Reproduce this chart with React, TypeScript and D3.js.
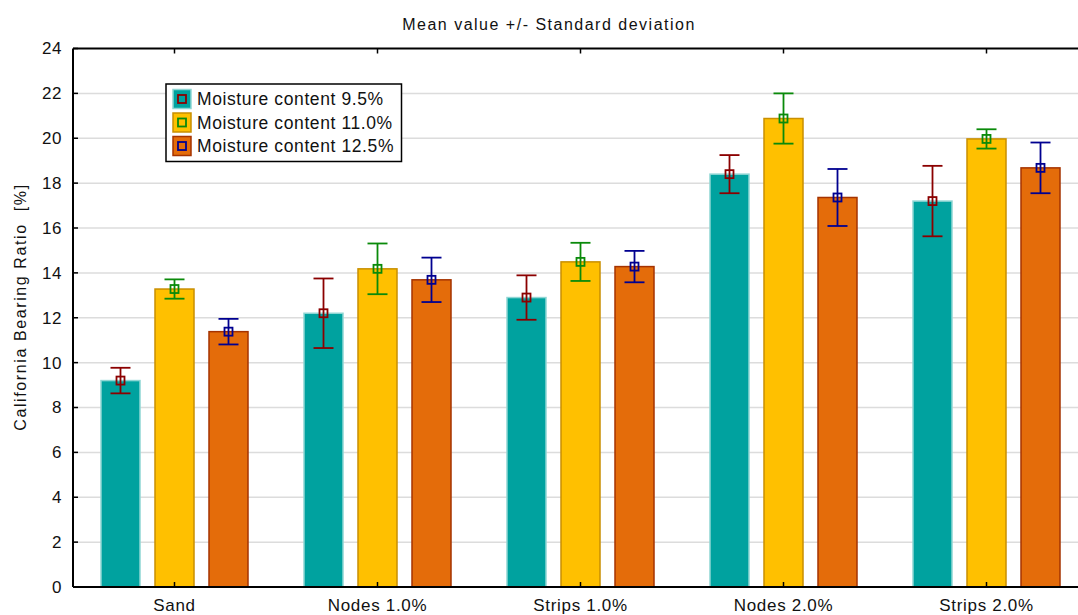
import { useEffect, useRef } from 'react';
import * as d3 from 'd3';

const categories = ['Sand', 'Nodes 1.0%', 'Strips 1.0%', 'Nodes 2.0%', 'Strips 2.0%'];
const seriesNames = ['Moisture content 9.5%', 'Moisture content 11.0%', 'Moisture content 12.5%'];

const mean95 = [9.2, 12.2, 12.9, 18.4, 17.2];
const sd95 = [0.57, 1.55, 0.99, 0.85, 1.57];
const mean110 = [13.28, 14.18, 14.49, 20.88, 19.97];
const sd110 = [0.43, 1.13, 0.85, 1.12, 0.43];
const mean125 = [11.38, 13.69, 14.28, 17.36, 18.68];
const sd125 = [0.57, 0.99, 0.7, 1.27, 1.13];

const yTicks = [0, 2, 4, 6, 8, 10, 12, 14, 16, 18, 20, 22, 24];

const FILLS = ['#00A29F', '#FFC000', '#E46C0A'];
const STROKES = ['#8FD6D4', '#C98F00', '#A53300'];
const ERR = ['#8B0000', '#0A8A0A', '#000090'];

const FONT = '"Liberation Sans", Arial, sans-serif';

export default function App() {
  const svgRef = useRef<SVGSVGElement>(null);
  const width = 1078;
  const height = 615;

  useEffect(() => {
    if (!svgRef.current) return;
    const svg = d3.select(svgRef.current);
    svg.selectAll('*').remove();

    const left = 73;
    const top = 48.5;
    const bottom = 587;
    const right = 73 + 5 * 203;

    const x0 = d3.scaleBand().domain(categories).range([left, right]).padding(0);
    const x1 = d3
      .scaleBand()
      .domain(['0', '1', '2'])
      .range([-73.5, 73.5])
      .paddingInner(15 / 54)
      .paddingOuter(0);
    const y = d3.scaleLinear().domain([0, 24]).range([bottom, top]);

    const means = [mean95, mean110, mean125];
    const sds = [sd95, sd110, sd125];
    const data = categories.flatMap((c, ci) =>
      [0, 1, 2].map((s) => ({
        cat: c,
        s,
        mean: means[s][ci],
        sd: sds[s][ci],
        cx: (x0(c) || 0) + x0.bandwidth() / 2,
      }))
    );

    // gridlines
    svg
      .append('g')
      .selectAll('line')
      .data(yTicks.filter((t) => t > 0 && t < 24))
      .join('line')
      .attr('x1', left)
      .attr('x2', width)
      .attr('y1', (d) => y(d))
      .attr('y2', (d) => y(d))
      .attr('stroke', '#dcdcdc')
      .attr('stroke-width', 1.5);

    // bars
    svg
      .append('g')
      .selectAll('rect')
      .data(data)
      .join('rect')
      .attr('x', (d) => d.cx + (x1(String(d.s)) || 0))
      .attr('y', (d) => y(d.mean))
      .attr('width', x1.bandwidth())
      .attr('height', (d) => bottom - y(d.mean))
      .attr('fill', (d) => FILLS[d.s])
      .attr('stroke', (d) => STROKES[d.s])
      .attr('stroke-width', 1.5);

    // error bars
    const eb = svg
      .append('g')
      .selectAll('g')
      .data(data)
      .join('g')
      .attr('stroke', (d) => ERR[d.s])
      .attr('stroke-width', 1.8)
      .attr('fill', 'none');
    const ex = (d: any) => d.cx + (x1(String(d.s)) || 0) + x1.bandwidth() / 2;
    eb.append('line')
      .attr('x1', ex)
      .attr('x2', ex)
      .attr('y1', (d: any) => y(d.mean + d.sd))
      .attr('y2', (d: any) => y(d.mean - d.sd));
    [1, -1].forEach((k) => {
      eb.append('line')
        .attr('x1', (d: any) => ex(d) - 10)
        .attr('x2', (d: any) => ex(d) + 10)
        .attr('y1', (d: any) => y(d.mean + k * d.sd))
        .attr('y2', (d: any) => y(d.mean + k * d.sd));
    });
    eb.append('rect')
      .attr('x', (d: any) => ex(d) - 4)
      .attr('y', (d: any) => y(d.mean) - 4)
      .attr('width', 8)
      .attr('height', 8);

    // axes frame
    const frame = svg.append('g').attr('stroke', '#000').attr('stroke-width', 2);
    frame.append('line').attr('x1', left).attr('x2', width).attr('y1', bottom).attr('y2', bottom);
    frame.append('line').attr('x1', left).attr('x2', width).attr('y1', top).attr('y2', top);
    frame.append('line').attr('x1', left).attr('x2', left).attr('y1', top).attr('y2', bottom);

    // x ticks (bottom up, top down)
    const cats = categories.map((c) => (x0(c) || 0) + x0.bandwidth() / 2);
    frame
      .selectAll('.tb')
      .data(cats)
      .join('line')
      .attr('x1', (d) => d)
      .attr('x2', (d) => d)
      .attr('y1', bottom)
      .attr('y2', bottom - 5)
      .attr('stroke-width', 1.5);
    frame
      .selectAll('.tt')
      .data(cats)
      .enter()
      .append('line')
      .attr('x1', (d) => d)
      .attr('x2', (d) => d)
      .attr('y1', top)
      .attr('y2', top + 5)
      .attr('stroke-width', 1.5);
    frame
      .selectAll('.ty')
      .data(yTicks)
      .enter()
      .append('line')
      .attr('x1', left)
      .attr('x2', left + 5)
      .attr('y1', (d) => y(d))
      .attr('y2', (d) => y(d))
      .attr('stroke-width', 1.5);

    // tick labels
    svg
      .append('g')
      .selectAll('text')
      .data(yTicks)
      .join('text')
      .attr('x', 62)
      .attr('y', (d) => y(d))
      .attr('dy', '0.35em')
      .attr('text-anchor', 'end')
      .attr('font-family', FONT)
      .attr('font-size', 17)
      .attr('letter-spacing', 0.5)
      .attr('fill', '#111')
      .text((d) => d);

    svg
      .append('g')
      .selectAll('text')
      .data(categories)
      .join('text')
      .attr('x', (d) => (x0(d) || 0) + x0.bandwidth() / 2)
      .attr('y', 605)
      .attr('dy', '0.35em')
      .attr('text-anchor', 'middle')
      .attr('font-family', FONT)
      .attr('font-size', 17)
      .attr('letter-spacing', 0.7)
      .attr('fill', '#111')
      .text((d) => d);

    // title
    svg
      .append('text')
      .attr('x', 549)
      .attr('y', 24)
      .attr('dy', '0.35em')
      .attr('text-anchor', 'middle')
      .attr('font-family', FONT)
      .attr('font-size', 16)
      .attr('letter-spacing', 1.5)
      .attr('fill', '#111')
      .text('Mean value +/- Standard deviation');

    // y label
    svg
      .append('text')
      .attr('transform', 'translate(20,307) rotate(-90)')
      .attr('dy', '0.35em')
      .attr('text-anchor', 'middle')
      .attr('font-family', FONT)
      .attr('font-size', 16)
      .attr('letter-spacing', 1.6)
      .attr('fill', '#111')
      .style('white-space', 'pre')
      .text('California Bearing Ratio  [%]');

    // legend
    const lg = svg.append('g');
    lg.append('rect')
      .attr('x', 166)
      .attr('y', 84)
      .attr('width', 235.5)
      .attr('height', 77.5)
      .attr('fill', '#fff')
      .attr('stroke', '#000')
      .attr('stroke-width', 1.5);
    const rows = lg
      .selectAll('g')
      .data(seriesNames)
      .join('g')
      .attr('transform', (_, i) => `translate(173,${89.5 + i * 23.5})`);
    rows
      .append('rect')
      .attr('width', 18)
      .attr('height', 19)
      .attr('fill', (_, i) => FILLS[i])
      .attr('stroke', (_, i) => STROKES[i])
      .attr('stroke-width', 1.5);
    rows
      .append('rect')
      .attr('x', 5)
      .attr('y', 5.5)
      .attr('width', 8)
      .attr('height', 8)
      .attr('fill', 'none')
      .attr('stroke', (_, i) => ERR[i])
      .attr('stroke-width', 1.8);
    rows
      .append('text')
      .attr('x', 24)
      .attr('y', 9.5)
      .attr('dy', '0.35em')
      .attr('font-family', FONT)
      .attr('font-size', 17.5)
      .attr('letter-spacing', 0.6)
      .attr('fill', '#111')
      .text((d) => d);
  }, []);

  return (
    <svg
      ref={svgRef}
      width={width}
      height={height}
      style={{ position: 'absolute', left: 0, top: 0, background: '#fff' }}
    />
  );
}
